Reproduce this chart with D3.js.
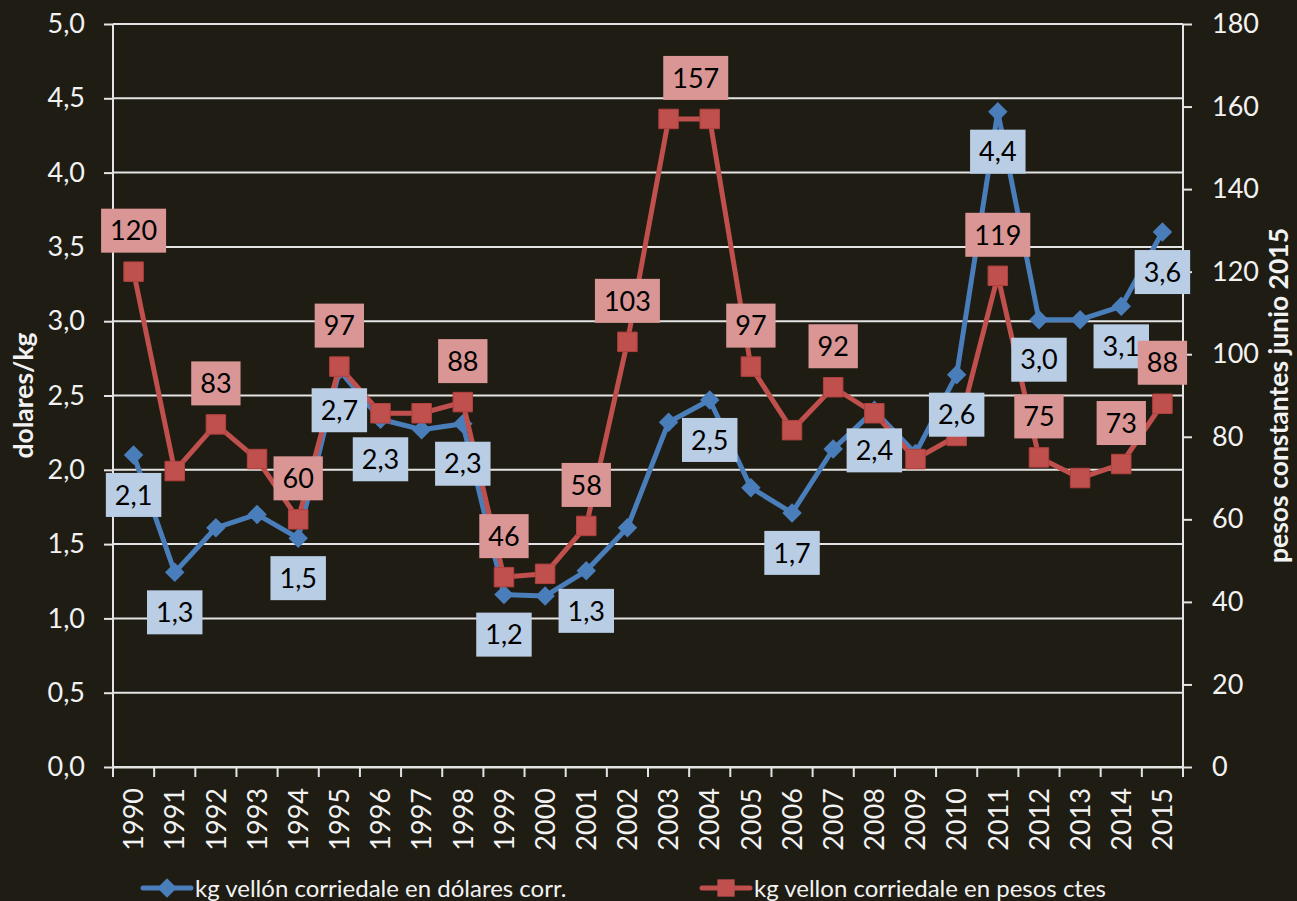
<!DOCTYPE html>
<html lang="es">
<head>
  <meta charset="UTF-8">
  <title>Vellón corriedale</title>
  <script src="https://d3js.org/d3.v7.min.js"></script>
  <style>
    body { margin: 0; background: #1f1c13; }
    text { font-family: Lato, "Open Sans", sans-serif; }
  </style>
</head>
<body>
  <div id="chart"></div>

  <script>
    const years = [1990, 1991, 1992, 1993, 1994, 1995, 1996, 1997, 1998, 1999, 2000, 2001, 2002,
      2003, 2004, 2005, 2006, 2007, 2008, 2009, 2010, 2011, 2012, 2013, 2014, 2015];

    // kg vellón corriedale en dólares corrientes (left axis)
    const dolares = [2.10, 1.31, 1.61, 1.70, 1.54, 2.67, 2.34, 2.27, 2.31, 1.16, 1.15, 1.32, 1.61,
      2.32, 2.47, 1.88, 1.71, 2.14, 2.40, 2.11, 2.64, 4.41, 3.01, 3.01, 3.10, 3.60];

    // kg vellón corriedale en pesos constantes junio 2015 (right axis)
    const pesos = [120, 71.7, 83, 74.6, 60, 97, 85.7, 85.7, 88.4, 46, 46.8, 58.4, 103,
      157, 157, 97, 81.6, 92, 85.7, 74.6, 80.2, 119, 75, 70, 73.4, 88];

    // years that carry a data label
    const dolaresLabeled = [1990, 1991, 1994, 1995, 1996, 1998, 1999, 2001, 2004, 2006, 2008, 2010, 2011, 2012, 2014, 2015];
    const pesosLabeled = [1990, 1992, 1994, 1995, 1998, 1999, 2001, 2002, 2004, 2005, 2007, 2011, 2012, 2014, 2015];

    const leftTicks = d3.range(0, 5.01, 0.5);
    const rightTicks = d3.range(0, 181, 20);

    const seriesNames = ["kg vellón corriedale en dólares corr.", "kg vellon corriedale en pesos ctes"];

    const width = 1297, height = 901;
    const margin = { top: 24, right: 114, bottom: 134, left: 113 };
    const blue = "#4a7ebb", red = "#c0504d";
    const blueBox = "#b9cde5", redBox = "#d99694";
    const gridColor = "#e4e4e4";
    const comma = v => d3.format(".1f")(v).replace(".", ",");

    const svg = d3.select("#chart").append("svg")
      .attr("width", width)
      .attr("height", height);

    svg.append("rect")
      .attr("width", width)
      .attr("height", height)
      .attr("fill", "#1f1c13");

    const x = d3.scaleBand()
      .domain(years)
      .range([margin.left, width - margin.right]);

    const yL = d3.scaleLinear()
      .domain([0, 5])
      .range([height - margin.bottom, margin.top]);

    const yR = d3.scaleLinear()
      .domain([0, 180])
      .range([height - margin.bottom, margin.top]);

    const cx = d => x(d) + x.bandwidth() / 2;

    // gridlines
    svg.append("g")
      .selectAll("line")
      .data(leftTicks)
      .enter().append("line")
      .attr("x1", margin.left)
      .attr("x2", width - margin.right)
      .attr("y1", d => yL(d))
      .attr("y2", d => yL(d))
      .attr("stroke", gridColor)
      .attr("stroke-width", 2);

    // left axis
    const leftAxis = svg.append("g")
      .attr("transform", "translate(" + margin.left + ",0)")
      .call(d3.axisLeft(yL).tickValues(leftTicks).tickSize(9).tickPadding(19).tickFormat(comma));

    // right axis
    const rightAxis = svg.append("g")
      .attr("transform", "translate(" + (width - margin.right) + ",0)")
      .call(d3.axisRight(yR).tickValues(rightTicks).tickSize(9).tickPadding(20));

    // bottom axis: labels at band centres, ticks on band edges
    const bottomAxis = svg.append("g")
      .attr("transform", "translate(0," + (height - margin.bottom) + ")")
      .call(d3.axisBottom(x).tickSize(0).tickPadding(0));

    bottomAxis.selectAll(".tick text")
      .attr("transform", "rotate(-90)")
      .attr("text-anchor", "end")
      .attr("x", -21)
      .attr("y", 0)
      .attr("dy", "0.36em");

    bottomAxis.selectAll(".edge")
      .data(years.concat([null]))
      .enter().append("line")
      .attr("class", "edge")
      .attr("x1", d => d === null ? width - margin.right : x(d))
      .attr("x2", d => d === null ? width - margin.right : x(d))
      .attr("y1", 0)
      .attr("y2", 10)
      .attr("stroke", gridColor)
      .attr("stroke-width", 2);

    [leftAxis, rightAxis, bottomAxis].forEach(g => {
      g.selectAll(".domain").attr("stroke", gridColor).attr("stroke-width", 2);
      g.selectAll(".tick line").attr("stroke", gridColor).attr("stroke-width", 2);
      g.selectAll(".tick text").attr("fill", "#f2f2f2").style("font-size", "27px");
    });
    leftAxis.select(".domain").attr("d", "M0," + yL(0) + "V" + yL(5));
    rightAxis.select(".domain").attr("d", "M0," + yR(0) + "V" + yR(180));

    // axis titles
    svg.append("text")
      .attr("transform", "translate(33," + ((margin.top + height - margin.bottom) / 2) + ") rotate(-90)")
      .attr("text-anchor", "middle")
      .attr("fill", "#f2f2f2")
      .style("font-size", "26.5px")
      .style("font-weight", "bold")
      .text("dolares/kg");

    svg.append("text")
      .attr("transform", "translate(1288," + ((margin.top + height - margin.bottom) / 2) + ") rotate(-90)")
      .attr("text-anchor", "middle")
      .attr("fill", "#f2f2f2")
      .style("font-size", "26.5px")
      .style("font-weight", "bold")
      .text("pesos constantes junio 2015");

    // lines
    const blueLine = d3.line()
      .x((d, i) => cx(years[i]))
      .y(d => yL(d));

    const redLine = d3.line()
      .x((d, i) => cx(years[i]))
      .y(d => yR(d));

    svg.append("path")
      .datum(dolares)
      .attr("d", blueLine)
      .attr("fill", "none")
      .attr("stroke", blue)
      .attr("stroke-width", 5)
      .attr("stroke-linejoin", "round");

    svg.append("g")
      .selectAll("path")
      .data(dolares)
      .enter().append("path")
      .attr("d", d3.symbol(d3.symbolSquare, 190))
      .attr("transform", (d, i) => "translate(" + cx(years[i]) + "," + yL(d) + ") rotate(45)")
      .attr("fill", blue);

    svg.append("path")
      .datum(pesos)
      .attr("d", redLine)
      .attr("fill", "none")
      .attr("stroke", red)
      .attr("stroke-width", 5)
      .attr("stroke-linejoin", "round");

    svg.append("g")
      .selectAll("path")
      .data(pesos)
      .enter().append("path")
      .attr("d", d3.symbol(d3.symbolSquare, 380))
      .attr("transform", (d, i) => "translate(" + cx(years[i]) + "," + yR(d) + ")")
      .attr("fill", red)
      .attr("stroke", "#b0413e")
      .attr("stroke-width", 1);

    // data labels
    function addLabels(labeled, values, scale, dy, fill, fmt, shift) {
      const g = svg.append("g");
      labeled.forEach(yr => {
        const i = years.indexOf(yr);
        const px = cx(yr) + (shift[yr] || 0);
        const py = scale(values[i]) + dy;
        const lab = g.append("g").attr("transform", "translate(" + px + "," + py + ")");
        const rect = lab.append("rect").attr("fill", fill);
        const t = lab.append("text")
          .attr("text-anchor", "middle")
          .attr("dy", "0.36em")
          .attr("fill", "#000")
          .style("font-size", "27px")
          .text(fmt(values[i]));
        const w = t.node().getComputedTextLength() + 18;
        rect.attr("x", -w / 2).attr("y", -22).attr("width", w).attr("height", 44);
      });
    }

    addLabels(dolaresLabeled, dolares, yL, 40, blueBox, comma, {});
    addLabels(pesosLabeled, pesos, yR, -41, redBox, d3.format(".0f"), { 2004: -14 });

    // legend
    const legend = svg.append("g").attr("transform", "translate(0,888)");
    const legendItems = [
      { name: seriesNames[0], color: blue, x0: 143, diamond: true },
      { name: seriesNames[1], color: red, x0: 702, diamond: false }
    ];
    const item = legend.selectAll(".legend")
      .data(legendItems)
      .enter().append("g")
      .attr("class", "legend")
      .attr("transform", d => "translate(" + d.x0 + ",0)");

    item.append("line")
      .attr("x1", 0)
      .attr("x2", 48)
      .attr("stroke", d => d.color)
      .attr("stroke-width", 5)
      .attr("stroke-linecap", "round");

    item.append("path")
      .attr("d", d => d3.symbol(d3.symbolSquare, d.diamond ? 190 : 300)())
      .attr("transform", d => "translate(24,0)" + (d.diamond ? " rotate(45)" : ""))
      .attr("fill", d => d.color);

    item.append("text")
      .attr("x", 52)
      .attr("y", 9)
      .attr("fill", "#f2f2f2")
      .style("font-size", "24px")
      .text(d => d.name);
  </script>
</body>
</html>
